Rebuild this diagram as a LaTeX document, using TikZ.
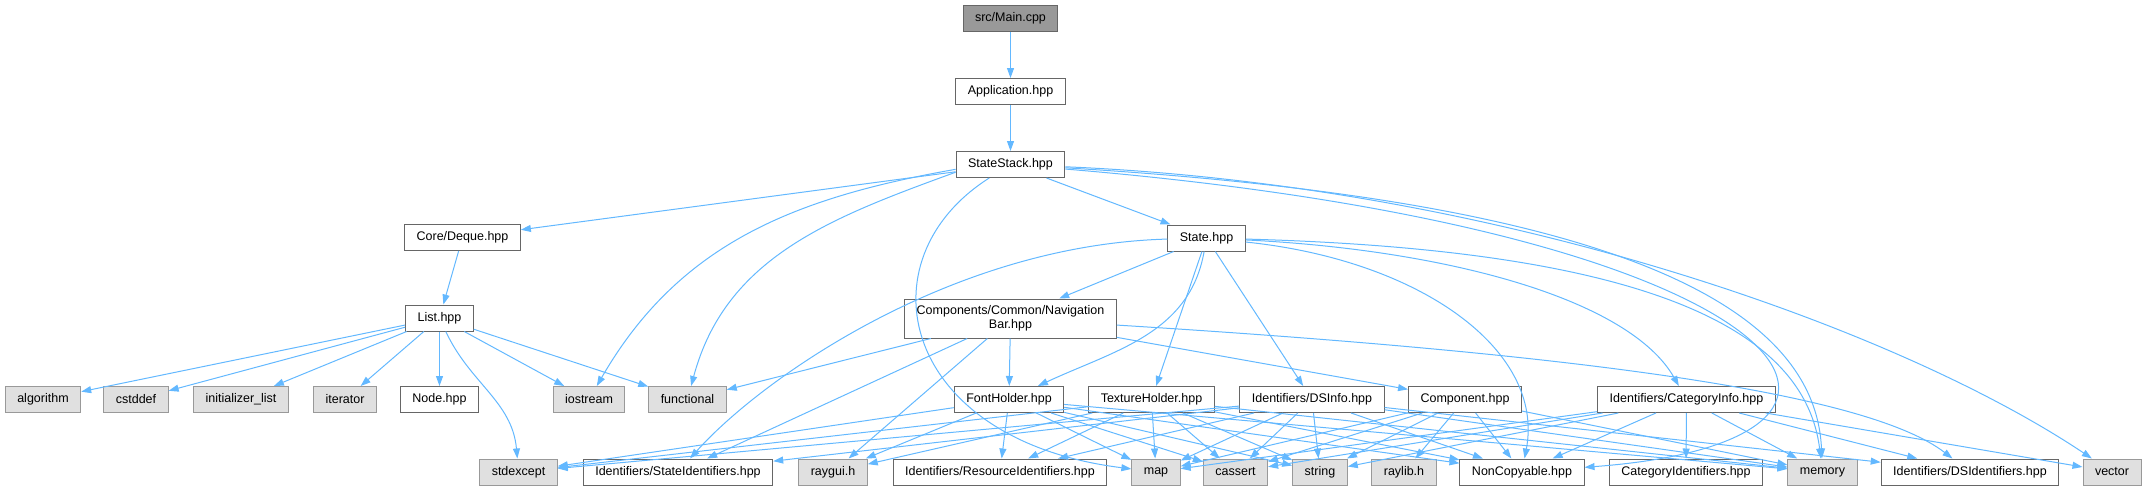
\documentclass[tikz,border=0pt]{standalone}
\usepackage{fontspec}
\setmainfont{Liberation Sans}
\usetikzlibrary{arrows.meta}
\definecolor{DoxEdge}{HTML}{63B8FF}
\definecolor{DoxRootFill}{HTML}{999999}
\definecolor{DoxRootDraw}{HTML}{666666}
\definecolor{DoxLocalDraw}{HTML}{666666}
\definecolor{DoxSysFill}{HTML}{E0E0E0}
\definecolor{DoxSysDraw}{HTML}{999999}
\tikzset{
    % Box styles - all sharp corners
    filebox/.style={
        rectangle,
        line width=1pt,
        minimum height=26pt,
        inner xsep=12pt,
        inner ysep=3pt,
        align=center,
        font=\fontsize{12.5}{14}\selectfont
    },
    rootfile/.style={
        filebox,
        draw=DoxRootDraw,
        fill=DoxRootFill
    },
    localfile/.style={
        filebox,
        draw=DoxLocalDraw,
        fill=white
    },
    sysfile/.style={
        filebox,
        draw=DoxSysDraw,
        fill=DoxSysFill
    },
    % Arrow style
    incarrow/.style={
        -{Triangle[length=10pt,width=7pt]},
        line width=1pt,
        draw=DoxEdge
    }
}

\begin{document}
\begin{tikzpicture}[x=1pt, y=1pt]
    \useasboundingbox (0,0) rectangle (2145,-491);

    \node[rootfile] (main) at (1010.5,-18) {src/Main.cpp};
    \node[localfile] (app) at (1010.5,-91.5) {Application.hpp};
    \node[localfile] (stack) at (1010.5,-164.5) {StateStack.hpp};
    \node[localfile] (deque) at (462.5,-237.5) {Core/Deque.hpp};
    \node[localfile] (state) at (1206.5,-238) {State.hpp};
    \node[localfile] (list) at (439.5,-318) {List.hpp};
    \node[localfile, minimum height=39pt] (navbar) at (1010.5,-318.5) {Components/Common/Navigation\\Bar.hpp};

    \node[sysfile] (algo) at (43,-399.5) {algorithm};
    \node[sysfile] (cstddef) at (136,-399.5) {cstddef};
    \node[sysfile] (initlist) at (241,-399.5) {initializer\_list};
    \node[sysfile] (iter) at (345,-399.5) {iterator};
    \node[localfile] (nodehpp) at (439.5,-399.5) {Node.hpp};
    \node[sysfile] (iostream) at (589,-399.5) {iostream};
    \node[sysfile] (functional) at (687.5,-399.5) {functional};

    \node[localfile] (font) at (1009,-399.5) {FontHolder.hpp};
    \node[localfile] (texture) at (1151.5,-399.5) {TextureHolder.hpp};
    \node[localfile] (dsinfo) at (1312,-399.5) {Identifiers/DSInfo.hpp};
    \node[localfile] (component) at (1465,-399.5) {Component.hpp};
    \node[localfile] (catinfo) at (1686.5,-399.5) {Identifiers/CategoryInfo.hpp};

    \node[sysfile] (stdexcept) at (518.5,-472) {stdexcept};
    \node[localfile] (stateid) at (678,-472) {Identifiers/StateIdentifiers.hpp};
    \node[sysfile] (raygui) at (833,-472) {raygui.h};
    \node[localfile] (resid) at (1000,-472) {Identifiers/ResourceIdentifiers.hpp};
    \node[sysfile] (map) at (1156,-472) {map};
    \node[sysfile] (cassert) at (1235.5,-472) {cassert};
    \node[sysfile] (string) at (1320,-472) {string};
    \node[sysfile] (raylib) at (1404,-472) {raylib.h};
    \node[localfile] (noncopy) at (1522,-472) {NonCopyable.hpp};
    \node[localfile] (catid) at (1686,-472) {CategoryIdentifiers.hpp};
    \node[sysfile] (memory) at (1822.5,-472) {memory};
    \node[localfile] (dsid) at (1970,-472) {Identifiers/DSIdentifiers.hpp};
    \node[sysfile] (vector) at (2112,-472) {vector};

    % top chain
    \draw[incarrow] (main) -- (app);
    \draw[incarrow] (app) -- (stack);

    % StateStack.hpp
    \draw[incarrow] (stack) -- (deque);
    \draw[incarrow] (stack.185) to[out=190,in=60] (iostream);
    \draw[incarrow] (stack.188) to[out=200,in=75] (functional);
    \draw[incarrow] (stack) .. controls (860,-260) and (900,-440) .. (map);
    \draw[incarrow] (stack) -- (state);
    \draw[incarrow] (stack) .. controls (1600,-200) and (1815,-300) .. (memory);
    \draw[incarrow] (stack) .. controls (1500,-185) and (1900,-330) .. (vector);
    \draw[incarrow] (stack) .. controls (1800,-230) and (1950,-440) .. (noncopy);

    % State.hpp
    \draw[incarrow] (state) .. controls (950,-245) and (760,-380) .. (stateid);
    \draw[incarrow] (state) -- (navbar);
    \draw[incarrow] (state) to[out=-100,in=25] (font);
    \draw[incarrow] (state) -- (texture);
    \draw[incarrow] (state) -- (dsinfo);
    \draw[incarrow] (state) .. controls (1450,-250) and (1630,-300) .. (catinfo);
    \draw[incarrow] (state) .. controls (1420,-260) and (1545,-350) .. (noncopy);
    \draw[incarrow] (state) .. controls (1650,-250) and (1805,-330) .. (memory);

    % Core/Deque.hpp and List.hpp
    \draw[incarrow] (deque) -- (list);
    \draw[incarrow] (list) -- (algo);
    \draw[incarrow] (list) -- (cstddef);
    \draw[incarrow] (list) -- (initlist);
    \draw[incarrow] (list) -- (iter);
    \draw[incarrow] (list) -- (nodehpp);
    \draw[incarrow] (list) -- (iostream);
    \draw[incarrow] (list) -- (functional);
    \draw[incarrow] (list) to[out=-65,in=95] (stdexcept);

    % Components/Common/NavigationBar.hpp
    \draw[incarrow] (navbar) -- (functional);
    \draw[incarrow] (navbar) -- (stateid);
    \draw[incarrow] (navbar) -- (raygui);
    \draw[incarrow] (navbar) -- (font);
    \draw[incarrow] (navbar) -- (component);
    \draw[incarrow] (navbar) .. controls (1600,-355) and (1870,-395) .. (dsid);

    % FontHolder.hpp
    \draw[incarrow] (font) -- (stdexcept);
    \draw[incarrow] (font) -- (raygui);
    \draw[incarrow] (font) -- (resid);
    \draw[incarrow] (font) -- (map);
    \draw[incarrow] (font) -- (cassert);
    \draw[incarrow] (font) -- (string);
    \draw[incarrow] (font) -- (noncopy);
    \draw[incarrow] (font) -- (memory);

    % TextureHolder.hpp
    \draw[incarrow] (texture) -- (stdexcept);
    \draw[incarrow] (texture) -- (raygui);
    \draw[incarrow] (texture) -- (resid);
    \draw[incarrow] (texture) -- (map);
    \draw[incarrow] (texture) -- (cassert);
    \draw[incarrow] (texture) -- (string);
    \draw[incarrow] (texture) -- (noncopy);
    \draw[incarrow] (texture) -- (memory);

    % Identifiers/DSInfo.hpp
    \draw[incarrow] (dsinfo) -- (stdexcept);
    \draw[incarrow] (dsinfo) -- (stateid);
    \draw[incarrow] (dsinfo) -- (resid);
    \draw[incarrow] (dsinfo) -- (map);
    \draw[incarrow] (dsinfo) -- (cassert);
    \draw[incarrow] (dsinfo) -- (string);
    \draw[incarrow] (dsinfo) -- (noncopy);
    \draw[incarrow] (dsinfo) -- (memory);
    \draw[incarrow] (dsinfo) -- (dsid);

    % Component.hpp
    \draw[incarrow] (component) -- (map);
    \draw[incarrow] (component) -- (cassert);
    \draw[incarrow] (component) -- (string);
    \draw[incarrow] (component) -- (raylib);
    \draw[incarrow] (component) -- (noncopy);
    \draw[incarrow] (component) -- (memory);

    % Identifiers/CategoryInfo.hpp
    \draw[incarrow] (catinfo) -- (map);
    \draw[incarrow] (catinfo) -- (cassert);
    \draw[incarrow] (catinfo) -- (string);
    \draw[incarrow] (catinfo) -- (noncopy);
    \draw[incarrow] (catinfo) -- (catid);
    \draw[incarrow] (catinfo) -- (memory);
    \draw[incarrow] (catinfo) -- (dsid);
    \draw[incarrow] (catinfo) -- (vector);
\end{tikzpicture}
\end{document}
